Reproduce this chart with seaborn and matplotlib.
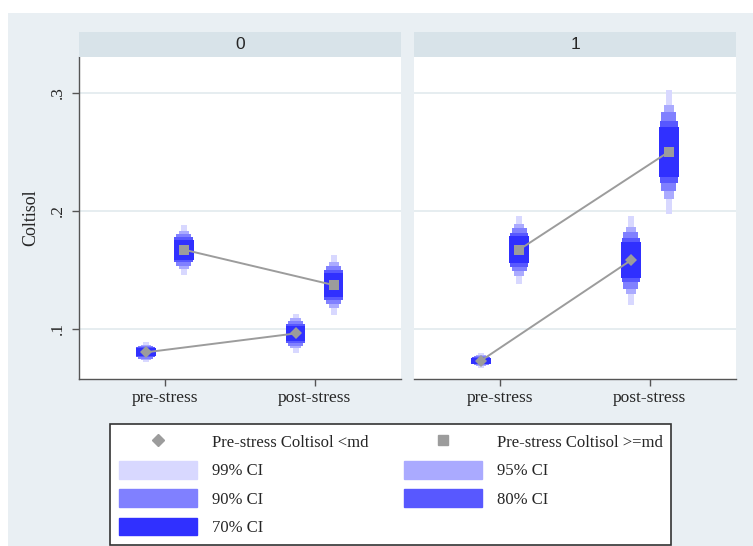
import numpy as np
import pandas as pd
import matplotlib
matplotlib.use("Agg")
import matplotlib.pyplot as plt
from matplotlib.patches import Rectangle, Patch
from matplotlib.lines import Line2D
import seaborn as sns

sns.set_theme(style="white")
plt.rcParams['font.family'] = ['Liberation Serif', 'DejaVu Serif']

## data
panels = [0, 1]
times = ["pre-stress", "post-stress"]
groups = ["Pre-stress Coltisol <md", "Pre-stress Coltisol >=md"]

# mean cortisol, [pre, post]
mean_0_low = [0.080, 0.096]
mean_0_high = [0.167, 0.137]
mean_1_low = [0.073, 0.158]
mean_1_high = [0.167, 0.250]
# standard errors (from the 99% CI length)
se_0_low = [0.0033, 0.0065]
se_0_high = [0.0082, 0.0100]
se_1_low = [0.0025, 0.0146]
se_1_high = [0.0112, 0.0204]

ci_levels = ["99% CI", "95% CI", "90% CI", "80% CI", "70% CI"]
ci_z = [2.576, 1.960, 1.645, 1.282, 1.036]
ci_colors = ["#d8d8ff", "#aaaaff", "#8080ff", "#5858ff", "#3030ff"]
ci_width = [0.04, 0.068, 0.10, 0.125, 0.13]

means = {(0, 0): mean_0_low, (0, 1): mean_0_high, (1, 0): mean_1_low, (1, 1): mean_1_high}
ses = {(0, 0): se_0_low, (0, 1): se_0_high, (1, 0): se_1_low, (1, 1): se_1_high}
offsets = [-0.127, 0.127]

rows = []
for p in panels:
    for g in range(2):
        for t in range(2):
            rows.append(dict(panel=p, group=groups[g], time=times[t],
                             xpos=t + 1 + offsets[g],
                             mean=means[(p, g)][t], se=ses[(p, g)][t]))
df = pd.DataFrame(rows)

gray = "#9c9c9c"
bg = "#e9eff3"
strip = "#d8e3e9"

W, H = 753, 546
fig = plt.figure(figsize=(W / 100, H / 100), dpi=100)
fig.patches.append(Rectangle((8 / W, 0), 1, 1 - 12.5 / H, transform=fig.transFigure,
                             facecolor=bg, edgecolor="none", zorder=-10))

ax_left = [78.7, 414]
ax_w = 322
ax_top, ax_bot = 57.3, 379
strip_top = 31.7

for i, p in enumerate(panels):
    ax = fig.add_axes([ax_left[i] / W, 1 - ax_bot / H, ax_w / W, (ax_bot - ax_top) / H])
    ax.set_facecolor("white")
    sub = df[df.panel == p]

    # CI bars, widest interval first
    for lev, z, c, w in zip(ci_levels, ci_z, ci_colors, ci_width):
        ax.bar(sub.xpos, 2 * z * sub.se, bottom=sub["mean"] - z * sub.se,
               width=w, color=c, linewidth=0, zorder=2)

    sns.lineplot(data=sub, x="xpos", y="mean", hue="group", style="group",
                 markers={groups[0]: "D", groups[1]: "s"}, dashes=False,
                 palette=[gray, gray], markersize=6.5, markeredgecolor=gray,
                 markeredgewidth=0, linewidth=1.4, legend=False, ax=ax, zorder=3)

    ax.set_xlim(0.425, 2.575)
    ax.set_ylim(0.0574, 0.330)
    ax.set_xticks([1, 2])
    ax.set_xticklabels(times, fontsize=12.5)
    ax.set_yticks([0.1, 0.2, 0.3])
    ax.yaxis.grid(True, color="#e4ecef", linewidth=1.3)
    ax.set_axisbelow(True)
    ax.tick_params(axis="x", direction="out", length=5, width=1, color="#555555", pad=3, bottom=True)
    for s in ["top", "right"]:
        ax.spines[s].set_visible(False)
    ax.spines["bottom"].set_color("#555555")
    ax.spines["bottom"].set_linewidth(1)
    ax.set_xlabel("")
    if i == 0:
        ax.set_yticklabels([".1", ".2", ".3"], rotation=90, va="center", fontsize=12.5)
        ax.tick_params(axis="y", direction="out", length=5, width=1, color="#555555", pad=4, left=True)
        ax.spines["left"].set_color("#555555")
        ax.spines["left"].set_linewidth(1)
        ax.set_ylabel("Coltisol", fontsize=13, labelpad=8)
    else:
        ax.set_yticklabels([])
        ax.tick_params(axis="y", left=False)
        ax.spines["left"].set_visible(False)
        ax.set_ylabel("")

    # facet strip
    sax = fig.add_axes([ax_left[i] / W, 1 - ax_top / H, ax_w / W, (ax_top - strip_top) / H])
    sax.set_facecolor(strip)
    sax.set_xticks([])
    sax.set_yticks([])
    for s in sax.spines.values():
        s.set_visible(False)
    sax.text(0.5, 0.5, str(p), ha="center", va="center", fontsize=12.5,
             family="Liberation Sans", transform=sax.transAxes)

handles = [Line2D([], [], marker="D", color=gray, linestyle="none", markersize=6.5),
           Patch(color=ci_colors[0]), Patch(color=ci_colors[2]), Patch(color=ci_colors[4]),
           Line2D([], [], marker="s", color=gray, linestyle="none", markersize=6.5),
           Patch(color=ci_colors[1]), Patch(color=ci_colors[3])]
labels = [groups[0], ci_levels[0], ci_levels[2], ci_levels[4],
          groups[1], ci_levels[1], ci_levels[3]]
leg = fig.legend(handles, labels, loc="upper center", bbox_to_anchor=(0.519, 1 - 424 / H),
                 ncol=2, frameon=True, fancybox=False, fontsize=12, borderaxespad=0,
                 handlelength=4.7, handleheight=1.26, labelspacing=0.6,
                 handletextpad=0.9, columnspacing=2.1, borderpad=0.5)
leg.get_frame().set_edgecolor("#333333")
leg.get_frame().set_facecolor("white")
leg.get_frame().set_alpha(1)
leg.get_frame().set_linewidth(1.2)

fig.savefig("out.png", dpi=100)
plt.close()
